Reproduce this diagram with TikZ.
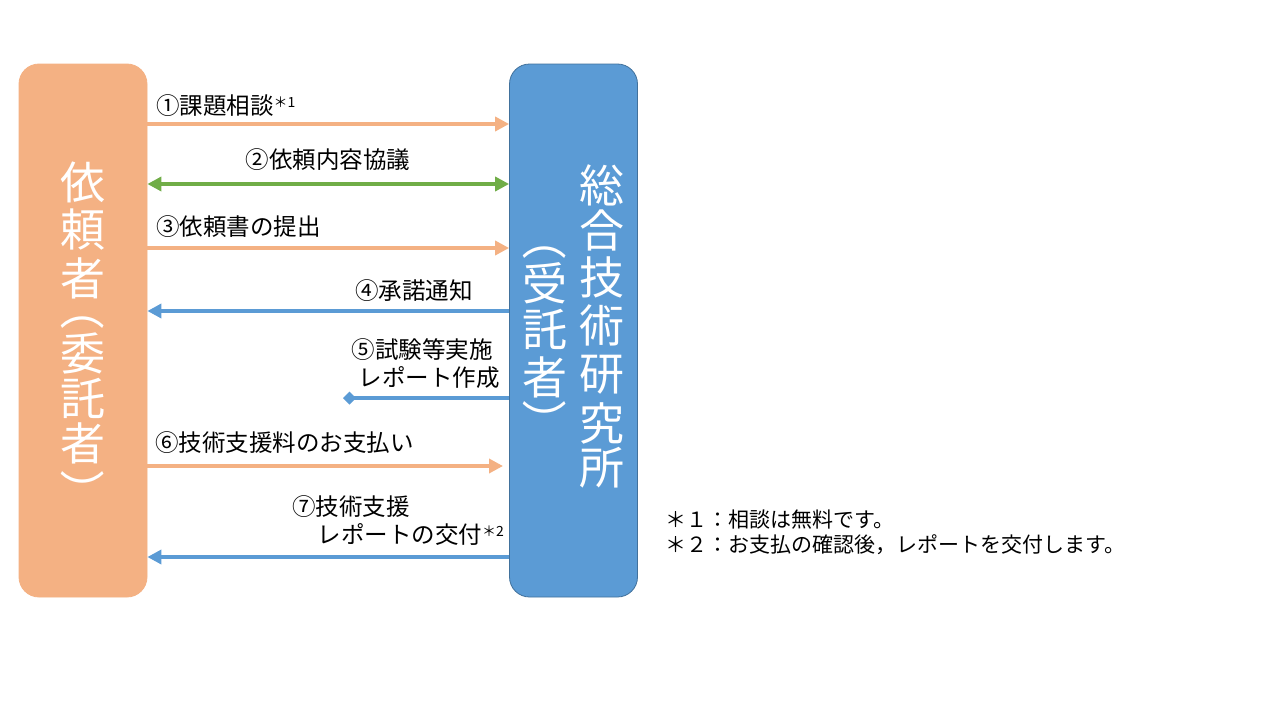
\documentclass[tikz,border=0pt]{standalone}
\usepackage{fontspec}
\setmainfont{Noto Sans CJK JP}
\usetikzlibrary{arrows.meta}
\definecolor{orng}{HTML}{F4B183}
\definecolor{blu}{HTML}{5B9BD5}
\definecolor{bluedge}{HTML}{41719C}
\definecolor{grn}{HTML}{70AD47}
\begin{document}
\begin{tikzpicture}[x=1pt,y=-1pt,
  party/.style={rectangle, rounded corners=20pt, minimum width=128pt, minimum height=533pt, inner sep=0pt, line width=0.8pt},
  vch/.style={text=white, inner sep=0pt, font=\fontsize{45}{50}\selectfont},
  lbl/.style={inner sep=0pt, font=\fontsize{23.5}{28}\selectfont},
  note/.style={inner sep=0pt, anchor=west, font=\fontsize{21}{25}\selectfont},
  flow/.style={line width=4pt, -{Triangle[length=14pt,width=14pt]}}]
\useasboundingbox[fill=white] (0,0) rectangle (1280,720);
\node[party, fill=orng, draw=orng] (L) at (83,330.5) {};
\node[party, fill=blu, draw=bluedge] (R) at (573.5,330.5) {};
% vertical texts
\foreach \c/\y [count=\i] in {依/182, 頼/230, 者/278, 委/353, 託/398, 者/443}
  \node[vch] (Lc\i) at (83,\y) {\c};
\node[vch, rotate=-90] (Lpo) at (83,308) {（};
\node[vch, rotate=-90] (Lpc) at (83,492) {）};
\foreach \c/\y [count=\i] in {総/185, 合/230, 技/277, 術/325, 研/375, 究/423, 所/468}
  \node[vch] (Ra\i) at (602,\y) {\c};
\foreach \c/\y [count=\i] in {受/283, 託/329, 者/377}
  \node[vch] (Rb\i) at (545,\y) {\c};
\node[vch, rotate=-90] (Rpo) at (545,238) {（};
\node[vch, rotate=-90] (Rpc) at (545,422) {）};
% arrows
\draw[flow, orng] (L.east |- 0,124) -- (R.west |- 0,124);
\draw[line width=4pt, grn, {Triangle[length=14pt,width=14pt]}-{Triangle[length=14pt,width=14pt]}] (L.east |- 0,184) -- (R.west |- 0,184);
\draw[flow, orng] (L.east |- 0,248) -- (R.west |- 0,248);
\draw[flow, blu] (R.west |- 0,311) -- (L.east |- 0,311);
\coordinate (d5) at (343,398);
\draw[line width=4pt, blu, -{Diamond[length=13pt,width=13pt]}] (R.west |- 0,398) -- (d5);
\coordinate (e6) at (503,466);
\draw[flow, orng] (L.east |- 0,466) -- (e6);
\draw[flow, blu] (R.west |- 0,557) -- (L.east |- 0,557);
% labels
\node[lbl, anchor=west] (t1) at (156,106) {①課題相談\raisebox{7pt}{\fontsize{14}{14}\selectfont ＊1}};
\node[lbl] (t2) at (328,160) {②依頼内容協議};
\node[lbl, anchor=west] (t3) at (156,227) {③依頼書の提出};
\node[lbl, anchor=east] (t4) at (473,291) {④承諾通知};
\node[lbl, anchor=east] (t5a) at (493,350) {⑤試験等実施};
\node[lbl, anchor=east] (t5b) at (500,378) {レポート作成};
\node[lbl, anchor=west] (t6) at (155,443) {⑥技術支援料のお支払い};
\node[lbl, anchor=west] (t7a) at (292,507) {⑦技術支援};
\node[lbl, anchor=east] (t7b) at (504,535) {レポートの交付\raisebox{7pt}{\fontsize{14}{14}\selectfont ＊2}};
% notes
\node[note] (n1) at (665,520) {＊１：相談は無料です。};
\node[note] (n2) at (665,545) {＊２：お支払の確認後，レポートを交付します。};
\end{tikzpicture}
\end{document}
